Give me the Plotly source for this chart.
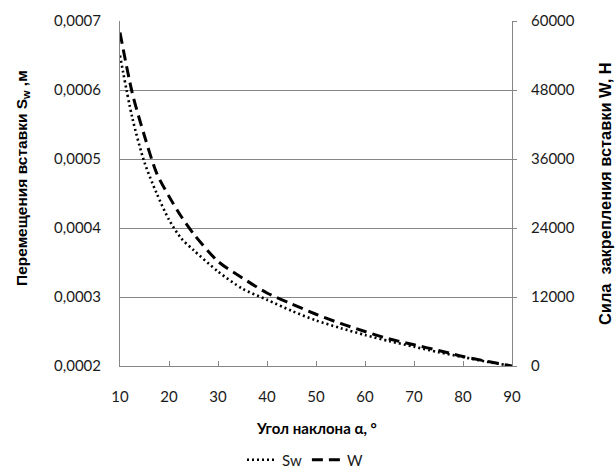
import plotly.graph_objects as go

angle = [10, 12.5, 15, 17.5, 20, 22.5, 25, 30, 35, 40, 45, 50, 55, 60, 65, 70, 75, 80, 85, 90]
sw = [0.00065, 0.00056, 0.000495, 0.00045, 0.000412, 0.000385, 0.000368, 0.000337, 0.000312,
      0.000296, 0.00028, 0.000266, 0.000255, 0.000245, 0.000236, 0.000228, 0.00022, 0.000213,
      0.000206, 0.0002]
w = [58000, 47500, 40000, 33500, 29500, 26000, 23000, 18200, 15300, 12700, 10800, 9000, 7400,
     6000, 4700, 3700, 2700, 1650, 800, 0]

x_ticks = [10, 20, 30, 40, 50, 60, 70, 80, 90]
left_ticks = [0.0002, 0.0003, 0.0004, 0.0005, 0.0006, 0.0007]
right_ticks = [0, 12000, 24000, 36000, 48000, 60000]

GRID = "#868686"
TICKFONT = dict(family="Lato", size=15, color="#1a1a1a")

W_FIG, H_FIG = 616, 469

fig = go.Figure()
fig.add_trace(go.Scatter(x=angle, y=sw, name="Sw", mode="lines",
                         line=dict(color="black", width=2.6, dash="2px,3px", shape="spline", smoothing=0.8),
                         yaxis="y"))
fig.add_trace(go.Scatter(x=angle, y=w, name="W", mode="lines",
                         line=dict(color="black", width=3, dash="11px,6px", shape="spline", smoothing=0.8),
                         yaxis="y2"))

fig.update_layout(
    width=W_FIG, height=H_FIG,
    margin=dict(l=120, r=104, t=21, b=103, autoexpand=False),
    paper_bgcolor="white", plot_bgcolor="white",
    separators=", ",
    showlegend=True,
    legend=dict(orientation="h", x=(305 - 120) / 392, xanchor="center", xref="paper",
                y=1 - 460 / H_FIG, yanchor="middle", yref="container",
                font=dict(family="Lato", size=15, color="#1a1a1a"), itemwidth=30,
                bgcolor="rgba(0,0,0,0)"),
    xaxis=dict(range=[10, 90], tickvals=x_ticks, ticktext=[str(v) for v in x_ticks],
               showgrid=False, zeroline=False, showline=True, linecolor=GRID, linewidth=1,
               ticks="inside", ticklen=5, tickcolor=GRID, tickfont=TICKFONT,
               ticklabelstandoff=17),
    yaxis=dict(range=[0.0002, 0.0007], tickvals=left_ticks, tickformat=".4f",
               showgrid=True, gridcolor=GRID, gridwidth=1, zeroline=False,
               showline=True, linecolor=GRID, linewidth=1, ticks="", tickfont=TICKFONT,
               ticklabelstandoff=15),
    yaxis2=dict(range=[0, 60000], tickvals=right_ticks, tickformat="d", overlaying="y", side="right",
                showgrid=False, zeroline=False, showline=True, linecolor=GRID, linewidth=1,
                ticks="outside", ticklen=4, tickcolor=GRID, tickfont=TICKFONT,
                ticklabelstandoff=11),
    annotations=[
        dict(text="Перемещения вставки S<sub>w</sub> ,м", xref="paper", yref="paper",
             x=(22 - 120) / 392, y=(366 - 178) / 345, textangle=-90, showarrow=False,
             xanchor="center", yanchor="middle",
             font=dict(family="Liberation Sans", size=15.5, color="black", weight="bold")),
        dict(text="Сила  закрепления вставки W, Н", xref="paper", yref="paper",
             x=(605 - 120) / 392, y=(366 - 194) / 345, textangle=-90, showarrow=False,
             xanchor="center", yanchor="middle",
             font=dict(family="Liberation Sans", size=16.4, color="black", weight="bold")),
        dict(text="Угол наклона α, °", xref="paper", yref="paper",
             x=0.5, y=(366 - 428) / 345, showarrow=False, xanchor="center", yanchor="middle",
             font=dict(family="Lato", size=15, color="black", weight="bold")),
    ],
)

fig.write_html("out.html", config={"displayModeBar": False},
               post_script="document.body.style.margin='0';document.body.style.overflow='hidden';")
